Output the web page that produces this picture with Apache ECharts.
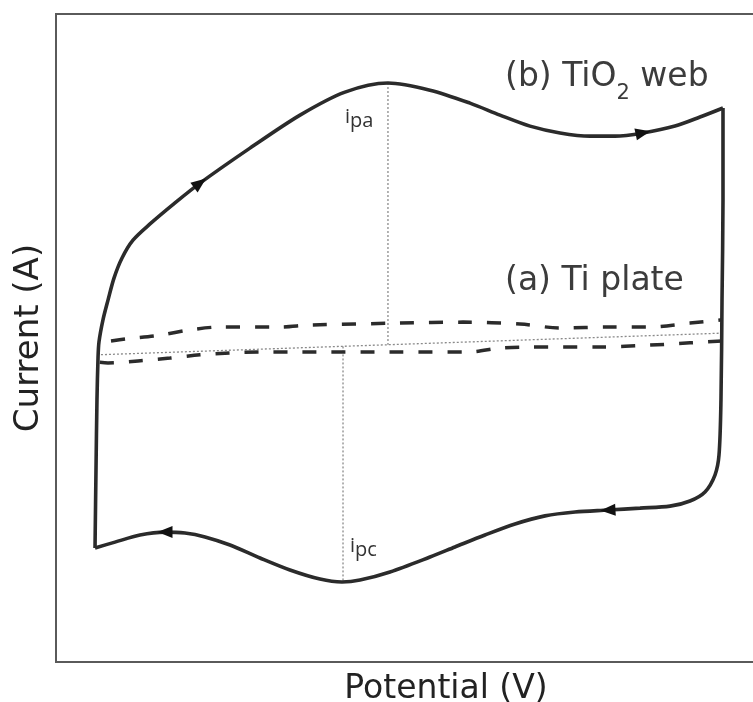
<!DOCTYPE html>
<html>
<head>
<meta charset="utf-8">
<script src="https://cdn.jsdelivr.net/npm/echarts@6/dist/echarts.min.js"></script>
<style>
  html, body { margin: 0; padding: 0; background: #fff; overflow: hidden; }
  #chart { width: 753px; height: 702px; }
</style>
</head>
<body>
<div id="chart"></div>
<script>
// Cyclic voltammograms, arbitrary units: potential 0..111.75, current -100..100

// (b) TiO2 web: anodic sweep (lower-left corner -> upper-right corner)
const webAnodic = [
  [5.59, -64.8], [5.73, -40.7], [5.87, -19.1], [6.02, -6.2], [6.16, -1.2],
  [6.73, 5.6], [7.45, 11.7], [8.31, 18.5], [9.46, 24.7], [11.03, 30.2],
  [13.47, 35.2], [17.05, 41.7], [20.63, 47.8], [27.79, 58.6], [34.96, 68.8],
  [41.40, 75.9], [47.56, 78.7], [53.58, 76.5], [59.31, 72.5], [63.61, 68.8],
  [67.91, 65.4], [72.21, 63.3], [76.50, 62.3], [80.09, 62.3], [84.10, 63.3],
  [88.68, 65.4], [92.26, 68.2], [95.56, 71.0]
];
// (b) TiO2 web: cathodic sweep (upper-right corner -> back to start)
const webCathodic = [
  [95.56, 71.0], [95.56, 42.6], [95.42, 11.7], [95.27, -19.1], [94.99, -36.1],
  [94.41, -42.3], [92.98, -47.5], [90.83, -50.3], [87.97, -51.9], [83.67, -52.5],
  [79.08, -53.1], [74.36, -53.7], [70.06, -54.9], [65.76, -57.4], [61.46, -60.8],
  [57.16, -64.5], [53.58, -67.6], [47.85, -72.2], [43.55, -74.7], [40.97, -75.3],
  [37.82, -74.4], [33.52, -71.6], [29.23, -67.9], [24.93, -63.9], [21.35, -61.4],
  [18.48, -60.2], [15.62, -59.9], [12.03, -60.8], [8.45, -63.0], [5.59, -64.8]
];

// (a) Ti plate
const plateAnodic = [
  [7.88, -0.9], [10.03, -0.3], [14.90, 0.9], [19.20, 2.5],
  [23.50, 3.4], [32.09, 3.4], [36.39, 4.0], [49.28, 4.6], [58.31, 4.9],
  [66.48, 4.3], [72.21, 3.1], [79.37, 3.4], [85.10, 3.4], [90.83, 4.6],
  [95.42, 5.6]
];
const plateCathodic = [
  [95.42, -0.9], [90.83, -1.5], [85.10, -2.2], [77.94, -2.8], [67.91, -2.8],
  [63.61, -3.1], [59.31, -4.3], [49.28, -4.3], [34.96, -4.3], [29.23, -4.3],
  [24.93, -4.6], [20.63, -5.2], [16.33, -6.2], [11.75, -7.1], [7.45, -7.7],
  [5.87, -7.4]
];

// Baseline and peak-current markers
const baseline = [[5.87, -5.2], [95.42, 1.5]];
const anodicPeak = { potential: 47.56, current: 78.7, base: -2.1 };
const cathodicPeak = { potential: 41.12, current: -75.3, base: -2.6 };

// Sweep-direction arrows: [potential, current, heading in degrees]
const arrows = [
  [20.63, 47.8, 37],
  [84.10, 63.3, 12],
  [79.08, -53.1, 183],
  [15.62, -59.9, 180]
];

// Text annotations: [potential, current]
const labelWeb = [64.33, 79.3];
const labelPlate = [64.33, 17.6];
const labelIpa = [41.40, 68.2];
const labelIpc = [42.12, -64.2];

const curveColor = '#2b2b2b';
const guideColor = '#8a8a8a';
const font = 'DejaVu Sans';

const chart = echarts.init(document.getElementById('chart'));

function textPoint(pos, formatter, rich) {
  return {
    type: 'scatter',
    data: [pos],
    symbolSize: 0,
    silent: true,
    z: 5,
    itemStyle: { opacity: 1 },
    label: {
      show: true,
      position: 'right',
      distance: 0,
      formatter: formatter,
      rich: rich
    }
  };
}

const option = {
  animation: false,
  backgroundColor: '#fff',
  grid: {
    left: 56, top: 14, width: 780, height: 648,
    outerBoundsMode: 'none', containLabel: false,
    show: true, borderColor: '#5a5a5a', borderWidth: 2, backgroundColor: 'transparent'
  },
  xAxis: {
    type: 'value', min: 0, max: 111.75,
    name: 'Potential (V)', nameLocation: 'middle', nameGap: 11,
    nameTextStyle: { fontFamily: font, fontSize: 33, color: '#222', verticalAlign: 'top' },
    axisLine: { show: false }, axisTick: { show: false },
    axisLabel: { show: false }, splitLine: { show: false }
  },
  yAxis: {
    type: 'value', min: -100, max: 100,
    name: 'Current (A)', nameLocation: 'middle', nameGap: 10,
    nameTextStyle: { fontFamily: font, fontSize: 34, color: '#222' },
    axisLine: { show: false }, axisTick: { show: false },
    axisLabel: { show: false }, splitLine: { show: false }
  },
  series: [
    // guide lines
    {
      type: 'line', data: baseline, silent: true, z: 1,
      symbol: 'none',
      lineStyle: { color: guideColor, width: 1.3, type: [2, 2] }
    },
    {
      type: 'line', symbol: 'none', silent: true, z: 1,
      data: [[anodicPeak.potential, anodicPeak.current], [anodicPeak.potential, anodicPeak.base]],
      lineStyle: { color: guideColor, width: 1.3, type: [2, 2] }
    },
    {
      type: 'line', symbol: 'none', silent: true, z: 1,
      data: [[cathodicPeak.potential, cathodicPeak.base], [cathodicPeak.potential, cathodicPeak.current]],
      lineStyle: { color: guideColor, width: 1.3, type: [2, 2] }
    },
    // (a) Ti plate
    {
      type: 'line', data: plateAnodic, symbol: 'none', smooth: 0.3, z: 3,
      lineStyle: { color: curveColor, width: 3.5, type: [14, 15] }
    },
    {
      type: 'line', data: plateCathodic, symbol: 'none', smooth: 0.3, z: 3,
      lineStyle: { color: curveColor, width: 3.5, type: [14, 15] }
    },
    // (b) TiO2 web
    {
      type: 'line', data: webAnodic, symbol: 'none', smooth: 0.3, z: 4,
      lineStyle: { color: curveColor, width: 3.6 }
    },
    {
      type: 'line', data: webCathodic, symbol: 'none', smooth: 0.3, z: 4,
      lineStyle: { color: curveColor, width: 3.6 }
    },
    // direction arrows
    {
      type: 'scatter', silent: true, z: 6,
      data: arrows.map(a => ({ value: [a[0], a[1]], symbolRotate: a[2] - 90 })),
      symbol: 'triangle', symbolSize: [12, 15],
      itemStyle: { color: '#111', opacity: 1 }
    },
    textPoint(labelWeb, '{t|(b) TiO}{s|2}{t| web}', {
      t: { fontFamily: font, fontSize: 33, color: '#3c3c3c', lineHeight: 40, verticalAlign: 'top' },
      s: { fontFamily: font, fontSize: 21, color: '#3c3c3c', lineHeight: 40, verticalAlign: 'bottom', padding: [0, 0, -3, 0] }
    }),
    textPoint(labelPlate, '{t|(a) Ti plate}', {
      t: { fontFamily: font, fontSize: 33, color: '#3c3c3c' }
    }),
    textPoint(labelIpa, '{i|i}{s|pa}', {
      i: { fontFamily: 'Open Sans', fontSize: 20, color: '#333', verticalAlign: 'top' },
      s: { fontFamily: 'Open Sans', fontSize: 20, color: '#333', verticalAlign: 'bottom', padding: [0, 0, -4, 0] }
    }),
    textPoint(labelIpc, '{i|i}{s|pc}', {
      i: { fontFamily: 'Open Sans', fontSize: 20, color: '#333', verticalAlign: 'top' },
      s: { fontFamily: 'Open Sans', fontSize: 20, color: '#333', verticalAlign: 'bottom', padding: [0, 0, -4, 0] }
    })
  ]
};

chart.setOption(option);
</script>
</body>
</html>
